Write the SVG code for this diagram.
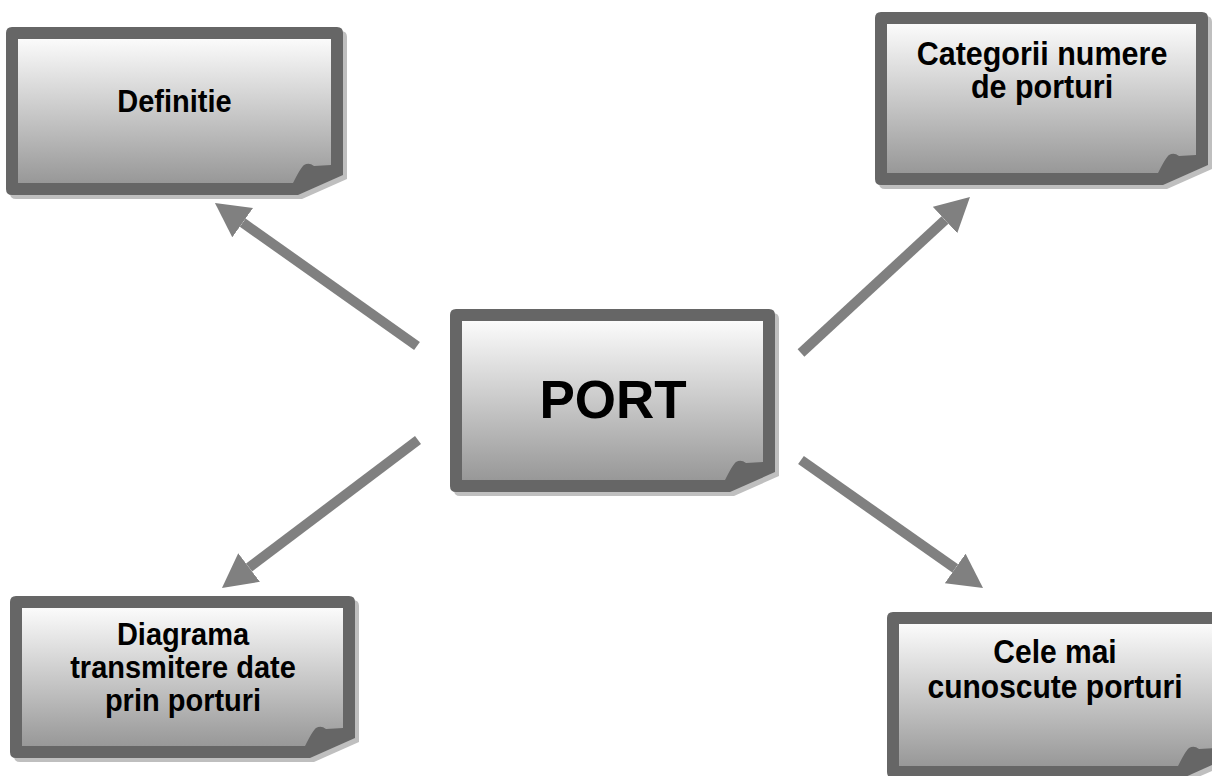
<svg xmlns="http://www.w3.org/2000/svg" xmlns:xlink="http://www.w3.org/1999/xlink" width="1212" height="776" viewBox="0 0 1212 776">
<style>
.shadow{fill:#bfbfbf}
.frame{fill:#666666}
.face{fill:url(#faceGrad)}
.lbl{font-family:"Liberation Sans",Arial,sans-serif;font-weight:bold;fill:#000;text-anchor:middle}
.conn{stroke:#808080;stroke-width:10;fill:none;stroke-linecap:butt}
</style>
<defs>
<linearGradient id="faceGrad" x1="0" y1="0" x2="0" y2="1">
<stop offset="0" stop-color="#fbfbfb"/>
<stop offset="1" stop-color="#989898"/>
</linearGradient>
<marker id="head" markerUnits="userSpaceOnUse" markerWidth="34" markerHeight="36" viewBox="0 0 34 36" refX="0" refY="18" orient="auto">
<path d="M0,0 L34,18 L0,36 Z" fill="#808080"/>
</marker>
<path id="oA" d="M12,27 H337 Q343,27 343,33 V175 L298,195 H12 Q6,195 6,189 V33 Q6,27 12,27 Z"/>
<path id="oB" d="M456,309 H769 Q775,309 775,315 V472 L730,492 H456 Q450,492 450,486 V315 Q450,309 456,309 Z"/>
<path id="oC" d="M881,12 H1202 Q1208,12 1208,18 V165 L1163,185 H881 Q875,185 875,179 V18 Q875,12 881,12 Z"/>
<path id="oD" d="M16,596 H349 Q355,596 355,602 V738 L310,758 H16 Q10,758 10,752 V602 Q10,596 16,596 Z"/>
<path id="oE" d="M893,612 H1222 Q1228,612 1228,618 V758 L1183,778 H893 Q887,778 887,772 V618 Q887,612 893,612 Z"/>
</defs>

<g id="connectors">
<line class="conn" x1="417" y1="346" x2="242.7" y2="222.6" marker-end="url(#head)"/>
<line class="conn" x1="801" y1="353" x2="945" y2="220" marker-end="url(#head)"/>
<line class="conn" x1="801" y1="460" x2="955.2" y2="568.4" marker-end="url(#head)"/>
<line class="conn" x1="418" y1="440" x2="249.1" y2="567.5" marker-end="url(#head)"/>
</g>

<g id="node-definitie">
<use xlink:href="#oA" class="shadow" transform="translate(4,4)"/>
<use xlink:href="#oA" class="frame"/>
<path class="face" d="M18,39 H331 V165 L314,166 Q309,162 304,165 Q301,167 293,183 H18 Z"/>
<text class="lbl" font-size="29" transform="translate(174.5,112) scale(1,1.08)">Definitie</text>
</g>

<g id="node-port">
<use xlink:href="#oB" class="shadow" transform="translate(4,4)"/>
<use xlink:href="#oB" class="frame"/>
<path class="face" d="M462,321 H763 V462 L746,463 Q741,459 736,462 Q733,464 725,480 H462 Z"/>
<text class="lbl" x="613" y="418" font-size="53">PORT</text>
</g>

<g id="node-categorii">
<use xlink:href="#oC" class="shadow" transform="translate(4,4)"/>
<use xlink:href="#oC" class="frame"/>
<path class="face" d="M887,24 H1196 V155 L1179,156 Q1174,152 1169,155 Q1166,157 1158,173 H887 Z"/>
<text class="lbl" font-size="30.5" transform="translate(1042,65) scale(1,1.06)">Categorii numere</text>
<text class="lbl" font-size="30.5" transform="translate(1042,98) scale(1,1.06)">de porturi</text>
</g>

<g id="node-diagrama">
<use xlink:href="#oD" class="shadow" transform="translate(4,4)"/>
<use xlink:href="#oD" class="frame"/>
<path class="face" d="M22,608 H343 V728 L326,729 Q321,725 316,728 Q313,730 305,746 H22 Z"/>
<text class="lbl" font-size="29" transform="translate(183,645) scale(1,1.06)">Diagrama</text>
<text class="lbl" font-size="29" transform="translate(183,678) scale(1,1.06)">transmitere date</text>
<text class="lbl" font-size="29" transform="translate(183,711) scale(1,1.06)">prin porturi</text>
</g>

<g id="node-cele">
<use xlink:href="#oE" class="shadow" transform="translate(4,4)"/>
<use xlink:href="#oE" class="frame"/>
<path class="face" d="M899,624 H1216 V748 L1199,749 Q1194,745 1189,748 Q1186,750 1178,766 H899 Z"/>
<text class="lbl" font-size="30" transform="translate(1055,663) scale(1,1.08)">Cele mai</text>
<text class="lbl" font-size="30" transform="translate(1055,698) scale(1,1.08)">cunoscute porturi</text>
</g>
</svg>
